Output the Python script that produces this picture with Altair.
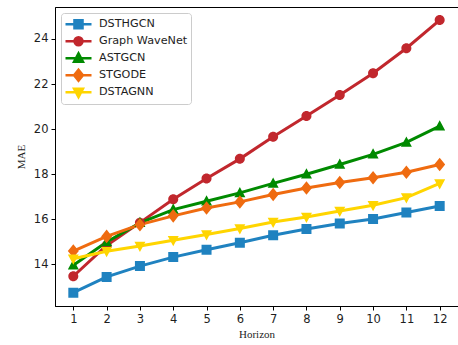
import altair as alt
import pandas as pd

horizon = list(range(1, 13))
models = ["DSTHGCN", "Graph WaveNet", "ASTGCN", "STGODE", "DSTAGNN"]
dsthgcn = [12.74, 13.44, 13.92, 14.32, 14.65, 14.96, 15.29, 15.57, 15.81, 16.01, 16.30, 16.59]
gwn = [13.47, 14.84, 15.85, 16.89, 17.81, 18.68, 19.66, 20.58, 21.51, 22.48, 23.59, 24.84]
astgcn = [13.96, 14.99, 15.84, 16.43, 16.80, 17.17, 17.59, 18.00, 18.43, 18.88, 19.41, 20.13]
stgode = [14.59, 15.24, 15.76, 16.15, 16.50, 16.77, 17.10, 17.39, 17.63, 17.84, 18.09, 18.43]
dstagnn = [14.25, 14.58, 14.81, 15.07, 15.32, 15.59, 15.88, 16.10, 16.37, 16.62, 16.96, 17.59]
y_ticks = [14, 16, 18, 20, 22, 24]

colors = ["#1f82c0", "#c1272d", "#008a00", "#ef6b10", "#ffd500"]

series = [dsthgcn, gwn, astgcn, stgode, dstagnn]
rows = []
for name, vals in zip(models, series):
    for h, v in zip(horizon, vals):
        rows.append({"model": name, "horizon": h, "mae": v})
df = pd.DataFrame(rows)

m = 0.31
line = "M-1,0H1"
paths = [
    f"{line}M-{m},-{m}H{m}V{m}H-{m}Z",
    f"{line}M-{m},0A{m},{m} 0 1,0 {m},0A{m},{m} 0 1,0 -{m},0Z",
    f"{line}M0,-{m*1.2:.3f}L{m*1.1:.3f},{m*0.85:.3f}L-{m*1.1:.3f},{m*0.85:.3f}Z",
    f"{line}M0,-{m*1.35:.3f}L{m*1.1:.3f},0L0,{m*1.35:.3f}L-{m*1.1:.3f},0Z",
    f"{line}M0,{m*1.2:.3f}L{m*1.1:.3f},-{m*0.85:.3f}L-{m*1.1:.3f},-{m*0.85:.3f}Z",
]

x = alt.X("horizon:Q", title="Horizon",
          scale=alt.Scale(domain=[0.45, 12.55], nice=False, zero=False),
          axis=alt.Axis(values=horizon, format="d", grid=False, labelFlush=False))
y = alt.Y("mae:Q", title="MAE",
          scale=alt.Scale(domain=[12.15, 25.42], nice=False, zero=False),
          axis=alt.Axis(values=y_ticks, format="d", grid=False, labelFlush=False))

cscale = alt.Scale(domain=models, range=colors)

leg = alt.Legend(title=None, orient="none", legendX=6, legendY=6,
                 symbolSize=676, symbolStrokeWidth=2.5, clipHeight=16.6,
                 rowPadding=0, padding=3, labelOffset=6,
                 fillColor="white", strokeColor="#cccccc", cornerRadius=3,
                 labelFont="DejaVu Sans", labelFontSize=11.2, labelColor="#1e1e1e")

lines = alt.Chart(df).mark_line(strokeWidth=3).encode(
    x=x, y=y,
    color=alt.Color("model:N", scale=cscale, legend=leg),
    detail="model:N",
)

points = alt.Chart(df).mark_point(filled=True, size=1040, strokeWidth=0, opacity=1).encode(
    x=x, y=y,
    color=alt.Color("model:N", scale=cscale, legend=leg),
    stroke=alt.Stroke("model:N", scale=cscale, legend=leg),
    shape=alt.Shape("model:N", scale=alt.Scale(domain=models, range=paths), legend=leg),
)

chart = alt.layer(lines, points).properties(
    width=403, height=299,
    autosize=alt.AutoSizeParams(type="none"),
    padding={"left": 55, "top": 7, "right": 0, "bottom": 39},
).configure_view(stroke="black", strokeWidth=1).configure_axis(
    domainColor="black", tickColor="black", tickSize=4, tickWidth=1,
    labelFont="DejaVu Sans", labelFontSize=11.5, labelColor="#1e1e1e", labelPadding=3,
    titleFont="Liberation Serif", titleFontSize=11, titleFontWeight="normal", titleColor="#1e1e1e",
).configure_axisX(titlePadding=4).configure_axisY(titlePadding=7)

chart.save("out.html", embed_options={"renderer": "svg", "actions": False})
